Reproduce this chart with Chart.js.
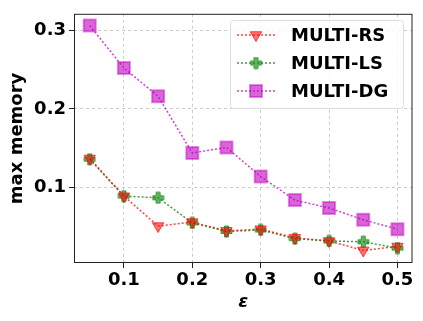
<!DOCTYPE html>
<html>
<head>
<meta charset="utf-8">
<script src="https://cdn.jsdelivr.net/npm/chart.js@4"></script>
<style>
  html, body { margin: 0; padding: 0; background: #fff; }
  #wrap { width: 423px; height: 321px; }
</style>
</head>
<body>
<div id="wrap"><canvas id="chart1" width="423" height="321"></canvas></div>
<script>
const eps = [0.05, 0.1, 0.15, 0.2, 0.25, 0.3, 0.35, 0.4, 0.45, 0.5];
const multiRS = [0.137, 0.089, 0.051, 0.056, 0.045, 0.047, 0.036, 0.032, 0.020, 0.025];
const multiLS = [0.136, 0.089, 0.087, 0.055, 0.044, 0.046, 0.035, 0.032, 0.031, 0.023];
const multiDG = [0.306, 0.252, 0.216, 0.144, 0.151, 0.114, 0.084, 0.074, 0.059, 0.047];
const xTicks = [0.1, 0.2, 0.3, 0.4, 0.5];
const yTicks = [0.1, 0.2, 0.3];

const FONT = "'DejaVu Sans', sans-serif";

// filled plus marker (matplotlib 'P')
function plusMarker(fill, stroke) {
  const c = document.createElement('canvas');
  c.width = 13; c.height = 13;
  const g = c.getContext('2d');
  const a = 2, b = 5.5, o = 6.5;
  g.beginPath();
  g.moveTo(o - a, o - b); g.lineTo(o + a, o - b); g.lineTo(o + a, o - a);
  g.lineTo(o + b, o - a); g.lineTo(o + b, o + a); g.lineTo(o + a, o + a);
  g.lineTo(o + a, o + b); g.lineTo(o - a, o + b); g.lineTo(o - a, o + a);
  g.lineTo(o - b, o + a); g.lineTo(o - b, o - a); g.lineTo(o - a, o - a);
  g.closePath();
  g.fillStyle = fill; g.fill();
  g.lineWidth = 1; g.strokeStyle = stroke; g.stroke();
  return c;
}
const lsMarker = plusMarker('rgba(0,128,0,0.6)', 'rgba(0,128,0,0.7)');

const toPts = arr => arr.map((v, i) => ({ x: eps[i], y: v }));

const frameAndLegend = {
  id: 'frameAndLegend',
  afterDatasetsDraw(chart) {
    const ctx = chart.ctx, a = chart.chartArea;
    ctx.save();
    ctx.strokeStyle = '#222';
    ctx.lineWidth = 1;
    ctx.strokeRect(a.left + 0.5, a.top + 0.5, a.right - a.left - 1, a.bottom - a.top - 1);

    // legend box
    const bx = 230, by = 20, bw = 173, bh = 88;
    ctx.fillStyle = 'rgba(255,255,255,0.8)';
    ctx.strokeStyle = '#ddd';
    ctx.beginPath();
    ctx.roundRect(bx + 0.5, by + 0.5, bw, bh, 3);
    ctx.fill(); ctx.stroke();

    const rows = [35, 63, 91];
    chart.data.datasets.forEach((ds, i) => {
      const y = rows[i];
      ctx.save();
      ctx.strokeStyle = ds.borderColor;
      ctx.lineWidth = 1.5;
      ctx.setLineDash([2, 2]);
      ctx.beginPath();
      ctx.moveTo(237, y); ctx.lineTo(276, y);
      ctx.stroke();
      ctx.restore();
      ctx.save();
      ctx.fillStyle = ds.pointBackgroundColor || ds.backgroundColor;
      ctx.strokeStyle = ds.pointBorderColor || ds.borderColor;
      ctx.lineWidth = ds.pointBorderWidth || 1;
      Chart.helpers.drawPoint(ctx, {
        pointStyle: ds.pointStyle,
        radius: ds.pointRadius,
        rotation: ds.pointRotation || 0,
        borderWidth: ds.pointBorderWidth || 1
      }, 256, y);
      ctx.restore();
      ctx.fillStyle = '#000';
      ctx.font = "bold 18px " + FONT;
      ctx.textBaseline = 'middle';
      ctx.fillText(ds.label, 291, y + 1);
    });
    ctx.restore();
  }
};

const ctx1 = document.getElementById('chart1');

new Chart(ctx1, {
  type: 'line',
  data: {
    datasets: [{
      label: 'MULTI-RS',
      data: toPts(multiRS),
      borderColor: 'rgba(255,0,0,0.75)',
      backgroundColor: 'rgba(255,0,0,0.55)',
      pointBackgroundColor: 'rgba(255,0,0,0.55)',
      pointBorderColor: 'rgba(255,0,0,0.7)',
      pointStyle: 'triangle',
      pointRotation: 180,
      pointRadius: 6.5,
      pointBorderWidth: 1,
      borderWidth: 1.5,
      borderDash: [2, 2]
    }, {
      label: 'MULTI-LS',
      data: toPts(multiLS),
      borderColor: 'rgba(0,128,0,0.75)',
      backgroundColor: 'rgba(0,128,0,0.55)',
      pointStyle: lsMarker,
      pointRadius: 6.5,
      borderWidth: 1.5,
      borderDash: [2, 2]
    }, {
      label: 'MULTI-DG',
      data: toPts(multiDG),
      borderColor: 'rgba(191,0,191,0.75)',
      backgroundColor: 'rgba(191,0,191,0.6)',
      pointBackgroundColor: 'rgba(191,0,191,0.6)',
      pointBorderColor: 'rgba(191,0,191,0.45)',
      pointStyle: 'rect',
      pointRadius: 8.5,
      pointBorderWidth: 2,
      borderWidth: 1.5,
      borderDash: [2, 2]
    }]
  },
  options: {
    responsive: false,
    animation: false,
    layout: { padding: { top: 10, right: 10, left: 0, bottom: 0 } },
    plugins: {
      legend: { display: false },
      tooltip: { enabled: false }
    },
    scales: {
      x: {
        type: 'linear',
        min: 0.027,
        max: 0.522,
        afterBuildTicks: axis => { axis.ticks = xTicks.map(v => ({ value: v })); },
        afterFit: axis => { axis.height = 58; },
        grid: { color: 'rgba(0,0,0,0.2)', tickColor: '#222', tickLength: 5, tickBorderDash: [] },
        border: { display: false, dash: [3, 3] },
        ticks: {
          color: '#000',
          padding: 2,
          font: { family: FONT, size: 18, weight: 'bold' },
          callback: v => v.toFixed(1)
        },
        title: {
          display: true,
          text: 'ε',
          color: '#000',
          padding: { top: 0, bottom: 8 },
          font: { family: FONT, size: 18, weight: 'bold', style: 'italic' }
        }
      },
      y: {
        min: 0.004,
        max: 0.321,
        afterBuildTicks: axis => { axis.ticks = yTicks.map(v => ({ value: v })); },
        afterFit: axis => { axis.width = 74; },
        grid: { color: 'rgba(0,0,0,0.2)', tickColor: '#222', tickLength: 5, tickBorderDash: [] },
        border: { display: false, dash: [3, 3] },
        ticks: {
          color: '#000',
          padding: 3,
          font: { family: FONT, size: 18, weight: 'bold' },
          callback: v => v.toFixed(1)
        },
        title: {
          display: true,
          text: 'max memory',
          color: '#000',
          padding: { top: 7, bottom: 0 },
          font: { family: FONT, size: 18, weight: 'bold' }
        }
      }
    }
  },
  plugins: [frameAndLegend]
});
</script>
</body>
</html>
